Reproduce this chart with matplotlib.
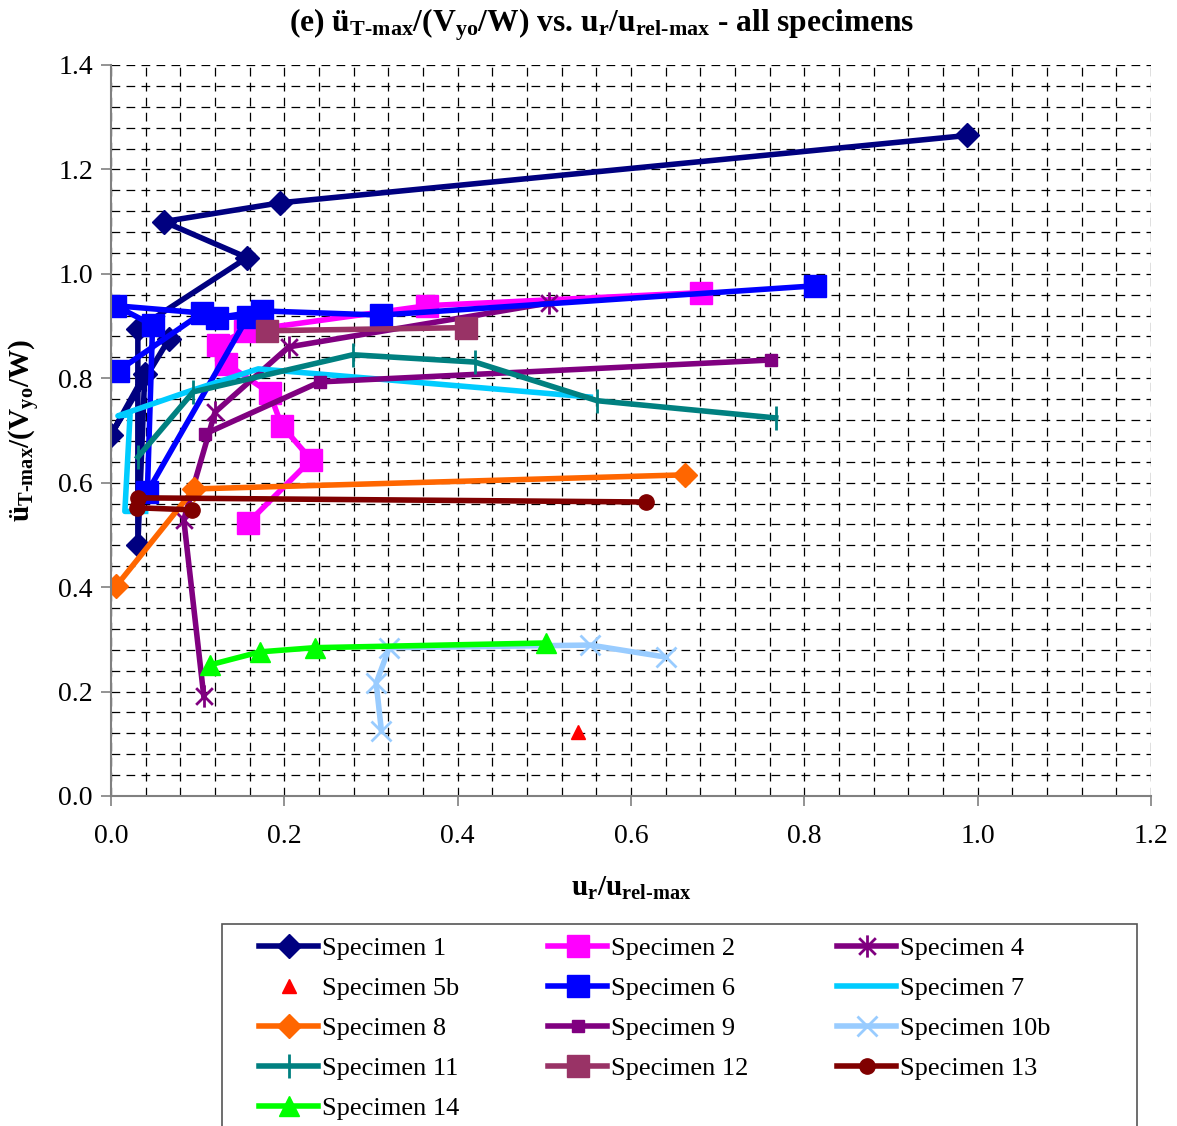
import matplotlib
matplotlib.use("Agg")
import matplotlib.pyplot as plt
from matplotlib.path import Path
from matplotlib.patches import Rectangle
from matplotlib.ticker import MultipleLocator

plt.rcParams['font.family'] = ['Liberation Serif', 'DejaVu Serif']
plt.rcParams['mathtext.fontset'] = 'custom'
plt.rcParams['mathtext.rm'] = 'Liberation Serif:bold'
plt.rcParams['mathtext.it'] = 'Liberation Serif:bold:italic'
plt.rcParams['mathtext.bf'] = 'Liberation Serif:bold'
plt.rcParams['mathtext.default'] = 'rm'

# data (x = ur/urel-max, y = üT-max/(Vyo/W))
s1_x = [0.067, 0.000, 0.039, 0.031, 0.031, 0.157, 0.061, 0.195, 0.988]
s1_y = [0.875, 0.692, 0.808, 0.481, 0.895, 1.031, 1.100, 1.136, 1.265]
s2_x = [0.158, 0.231, 0.197, 0.183, 0.133, 0.123, 0.155, 0.365, 0.681]
s2_y = [0.523, 0.644, 0.709, 0.772, 0.828, 0.864, 0.891, 0.939, 0.964]
s4_x = [0.107, 0.084, 0.120, 0.205, 0.505]
s4_y = [0.192, 0.529, 0.735, 0.860, 0.944]
s5b_x = [0.539]
s5b_y = [0.123]
s6_x = [0.008, 0.105, 0.005, 0.048, 0.042, 0.158, 0.122, 0.174, 0.312, 0.812]
s6_y = [0.814, 0.925, 0.939, 0.902, 0.582, 0.918, 0.916, 0.929, 0.921, 0.977]
s7_x = [0.040, 0.016, 0.022, 0.008, 0.090, 0.170, 0.553]
s7_y = [0.545, 0.545, 0.730, 0.728, 0.775, 0.818, 0.764]
s8_x = [0.006, 0.096, 0.662]
s8_y = [0.402, 0.588, 0.615]
s9_x = [0.108, 0.241, 0.762]
s9_y = [0.693, 0.793, 0.835]
s10b_x = [0.312, 0.306, 0.321, 0.553, 0.640]
s10b_y = [0.125, 0.216, 0.284, 0.289, 0.266]
s11_x = [0.031, 0.095, 0.279, 0.420, 0.561, 0.767]
s11_y = [0.649, 0.774, 0.845, 0.831, 0.757, 0.724]
s12_x = [0.180, 0.410]
s12_y = [0.891, 0.897]
s13_x = [0.093, 0.030, 0.031, 0.617]
s13_y = [0.548, 0.552, 0.571, 0.563]
s14_x = [0.114, 0.172, 0.235, 0.502]
s14_y = [0.251, 0.276, 0.284, 0.293]

# asterisk marker: vertical bar + X
star = Path([(0, -1), (0, 1), (-0.75, -0.75), (0.75, 0.75), (-0.75, 0.75), (0.75, -0.75)],
            [Path.MOVETO, Path.LINETO, Path.MOVETO, Path.LINETO, Path.MOVETO, Path.LINETO])

fig = plt.figure(figsize=(11.77, 11.26), dpi=100)
ax = fig.add_axes([0.0943, 0.2931, 0.8836, 0.6492])

lw = 4
h = {}
h['1'], = ax.plot(s1_x, s1_y, color='#000080', lw=lw, marker='D', ms=12, label='Specimen 1')
h['2'], = ax.plot(s2_x, s2_y, color='#FF00FF', lw=lw, marker='s', ms=16, label='Specimen 2')
h['4'], = ax.plot(s4_x, s4_y, color='#800080', lw=lw, marker=star, ms=16, mew=2, label='Specimen 4')
h['5b'], = ax.plot(s5b_x, s5b_y, color='#FF0000', lw=0, marker='^', ms=10, label='Specimen 5b')
h['6'], = ax.plot(s6_x, s6_y, color='#0000FF', lw=lw, marker='s', ms=16, label='Specimen 6')
h['7'], = ax.plot(s7_x, s7_y, color='#00CCFF', lw=lw, label='Specimen 7')
h['8'], = ax.plot(s8_x, s8_y, color='#FF6600', lw=lw, marker='D', ms=12, label='Specimen 8')
h['9'], = ax.plot(s9_x, s9_y, color='#800080', lw=lw, marker='s', ms=9, label='Specimen 9')
h['10b'], = ax.plot(s10b_x, s10b_y, color='#99CCFF', lw=lw, marker='x', ms=14, mew=2, label='Specimen 10b')
h['11'], = ax.plot(s11_x, s11_y, color='#008080', lw=lw, marker='|', ms=17, mew=2, label='Specimen 11')
h['12'], = ax.plot(s12_x, s12_y, color='#993366', lw=lw, marker='s', ms=16, label='Specimen 12')
h['13'], = ax.plot(s13_x, s13_y, color='#800000', lw=lw, marker='o', ms=11, label='Specimen 13')
h['14'], = ax.plot(s14_x, s14_y, color='#00FF00', lw=lw, marker='^', ms=15, label='Specimen 14')

ax.set_xlim(0, 1.2)
ax.set_ylim(0, 1.4)
ax.xaxis.set_major_locator(MultipleLocator(0.2))
ax.yaxis.set_major_locator(MultipleLocator(0.2))
ax.xaxis.set_minor_locator(MultipleLocator(0.04))
ax.yaxis.set_minor_locator(MultipleLocator(0.04))
ax.xaxis.set_major_formatter(lambda v, p: f'{v:.1f}')
ax.yaxis.set_major_formatter(lambda v, p: f'{v:.1f}')
ax.grid(which='both', color='black', ls=(0, (7, 5)), lw=0.9, zorder=0)
ax.set_axisbelow(True)
ax.tick_params(which='major', direction='out', length=7, width=1.2, color='#808080', labelsize=20)
ax.tick_params(axis='x', pad=13)
ax.tick_params(axis='y', pad=6)
ax.tick_params(which='minor', length=0)
for s in ['top', 'right']:
    ax.spines[s].set_visible(False)
for s in ['left', 'bottom']:
    ax.spines[s].set_color('#808080')
    ax.spines[s].set_linewidth(1.5)

fig.text(0.511, 0.978, r'(e) ü$_{\text{T-max}}$/(V$_{\text{yo}}$/W) vs. u$_{\text{r}}$/u$_{\text{rel-max}}$ - all specimens',
         ha='center', va='center', fontsize=22.7, fontweight='bold')
ax.set_xlabel(r'u$_{\text{r}}$/u$_{\text{rel-max}}$', fontsize=21, fontweight='bold', labelpad=19)
ax.set_ylabel(r'ü$_{\text{T-max}}$/(V$_{\text{yo}}$/W)', fontsize=21, fontweight='bold', labelpad=12)

# legend box (bottom runs off the figure like the original)
fig.patches.append(Rectangle((222 / 1177, -0.05), (1137 - 222) / 1177, 0.05 + 1 - 924 / 1126,
                             transform=fig.transFigure, facecolor='white', edgecolor='#555555', lw=1.2))

order = ['1', '5b', '8', '11', '14', '2', '6', '9', '12', '4', '7', '10b', '13']
leg = fig.legend([h[k] for k in order], [h[k].get_label() for k in order],
                 loc='upper left', bbox_to_anchor=(259 / 1177, 1 - 937 / 1126), ncol=3,
                 fontsize=19, frameon=False,
                 handlelength=2.25, handletextpad=0.15, columnspacing=3.35, labelspacing=0.62,
                 borderpad=0, borderaxespad=0)

fig.savefig('out.png', dpi=100)
